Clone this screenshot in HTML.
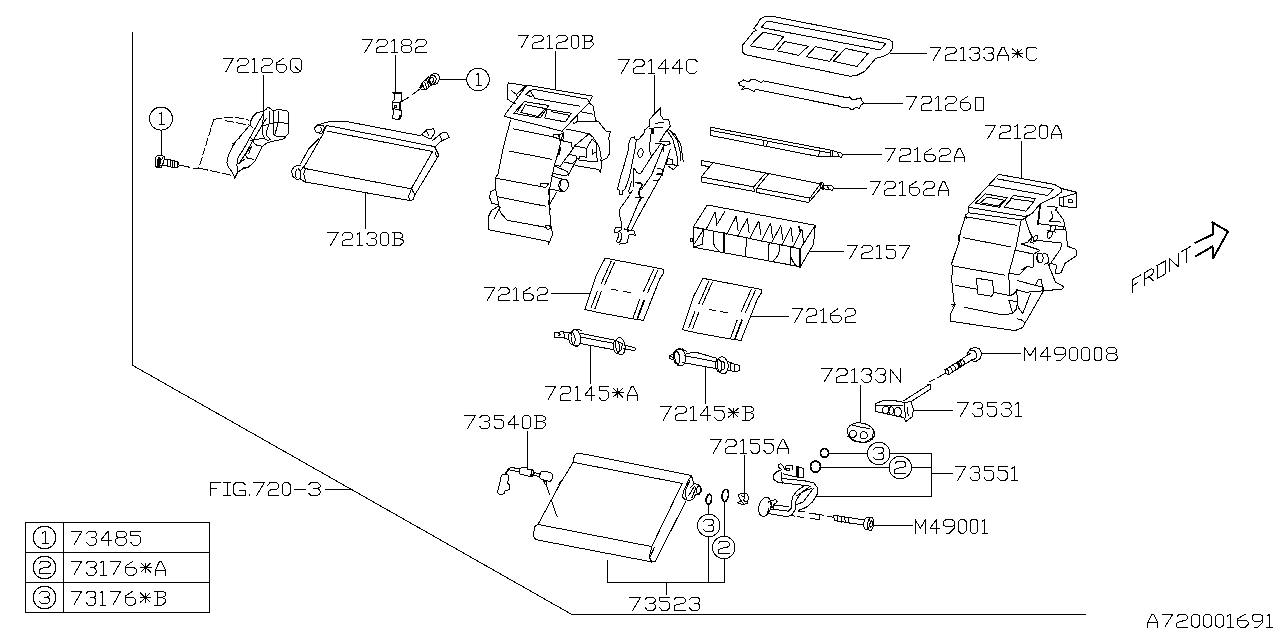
<!DOCTYPE html><html><head><meta charset="utf-8"><title>Parts diagram</title><style>html,body{margin:0;padding:0;background:#fff;font-family:"Liberation Sans",sans-serif}svg{display:block}</style></head><body><svg width="1280" height="640" viewBox="0 0 1280 640" shape-rendering="crispEdges"><g fill="none" stroke="#000" stroke-width="1" stroke-linejoin="round" stroke-linecap="square"><path d="M132,32 L132,365 L571,614 L1085,614"/><path d="M25.5,522.5 L209.5,522.5"/><path d="M25.5,552.5 L209.5,552.5"/><path d="M25.5,582.5 L209.5,582.5"/><path d="M25.5,612.5 L209.5,612.5"/><path d="M25.5,522.5 L25.5,612.5"/><path d="M63.5,522.5 L63.5,612.5"/><path d="M209.5,522.5 L209.5,612.5"/><path d="M55.8,537.5 L55.6,539.5 L55.1,541.3 L54.2,543.1 L53.1,544.7 L51.7,546.1 L50.1,547.2 L48.3,548.1 L46.5,548.6 L44.5,548.8 L42.5,548.6 L40.7,548.1 L38.9,547.2 L37.3,546.1 L35.9,544.7 L34.8,543.1 L33.9,541.3 L33.4,539.5 L33.2,537.5 L33.4,535.5 L33.9,533.7 L34.8,531.9 L35.9,530.3 L37.3,528.9 L38.9,527.8 L40.7,526.9 L42.5,526.4 L44.5,526.2 L46.5,526.4 L48.3,526.9 L50.1,527.8 L51.7,528.9 L53.1,530.3 L54.2,531.9 L55.1,533.7 L55.6,535.5Z"/><path d="M42.5,533 L45.3,531.3 L45.3,543.7"/><path d="M42.5,543.7 L48.3,543.7"/><path d="M55.8,567.5 L55.6,569.5 L55.1,571.3 L54.2,573.1 L53.1,574.7 L51.7,576.1 L50.1,577.2 L48.3,578.1 L46.5,578.6 L44.5,578.8 L42.5,578.6 L40.7,578.1 L38.9,577.2 L37.3,576.1 L35.9,574.7 L34.8,573.1 L33.9,571.3 L33.4,569.5 L33.2,567.5 L33.4,565.5 L33.9,563.7 L34.8,561.9 L35.9,560.3 L37.3,558.9 L38.9,557.8 L40.7,556.9 L42.5,556.4 L44.5,556.2 L46.5,556.4 L48.3,556.9 L50.1,557.8 L51.7,558.9 L53.1,560.3 L54.2,561.9 L55.1,563.7 L55.6,565.5Z"/><path d="M39,564 L41.1,561.3 L47.9,561.3 L50,563.2 L50,565.7 L47.9,567.5 L41.8,568.2 L39,569.9 L39,573.7 L50,573.7"/><path d="M55.8,597.5 L55.6,599.5 L55.1,601.3 L54.2,603.1 L53.1,604.7 L51.7,606.1 L50.1,607.2 L48.3,608.1 L46.5,608.6 L44.5,608.8 L42.5,608.6 L40.7,608.1 L38.9,607.2 L37.3,606.1 L35.9,604.7 L34.8,603.1 L33.9,601.3 L33.4,599.5 L33.2,597.5 L33.4,595.5 L33.9,593.7 L34.8,591.9 L35.9,590.3 L37.3,588.9 L38.9,587.8 L40.7,586.9 L42.5,586.4 L44.5,586.2 L46.5,586.4 L48.3,586.9 L50.1,587.8 L51.7,588.9 L53.1,590.3 L54.2,591.9 L55.1,593.7 L55.6,595.5Z"/><path d="M39.5,593.6 L41.6,591.3 L47.4,591.3 L49.5,593.3 L49.5,595.4 L47.4,597.1 L44,597.1"/><path d="M47.4,597.1 L49.5,598.8 L49.5,601.7 L47.4,603.7 L41.6,603.7 L39.5,601.4"/><path d="M71,531 L82.1,531 L73.9,545"/><path d="M86.5,533.6 L88.6,531 L94.4,531 L96.5,533.3 L96.5,535.6 L94.4,537.5 L91,537.5"/><path d="M94.4,537.5 L96.5,539.5 L96.5,542.7 L94.4,545 L88.6,545 L86.5,542.4"/><path d="M108.1,545 L108.1,531 L100.9,540 L111.2,540"/><path d="M118.1,531 L124.1,531 L126.2,533 L126.2,535.6 L124.1,537.5 L118.1,537.5 L116,535.6 L116,533 L118.1,531"/><path d="M118.1,537.5 L115.6,539.5 L115.6,542.7 L118.1,545 L124.1,545 L126.5,542.7 L126.5,539.5 L124.1,537.5"/><path d="M140.6,531 L130.9,531 L130.9,535.3 L138.3,535.3 L140.6,537.5 L140.6,542.7 L138.3,545 L133,545 L130.9,542.4"/><path d="M71,561 L81.8,561 L73.9,575"/><path d="M86.2,563.6 L88.2,561 L93.9,561 L96,563.3 L96,565.6 L93.9,567.5 L90.6,567.5"/><path d="M93.9,567.5 L96,569.5 L96,572.7 L93.9,575 L88.2,575 L86.2,572.4"/><path d="M100.3,562.9 L103.1,561 L103.1,575"/><path d="M100.3,575 L106,575"/><path d="M110.3,561 L121.1,561 L113.2,575"/><path d="M133.2,561 L125.8,566 L125.8,572.5 L128,575 L133.7,575 L136.3,572.5 L136.3,569.5 L133.7,567.4 L126.1,567.4"/><path d="M140.6,567.6 L151,567.6"/><path d="M145.8,563.1 L145.8,572.1"/><path d="M140.9,563.1 L150.6,572.1"/><path d="M150.6,563.1 L140.9,572.1"/><path d="M155.3,575 L155.3,570.3 L159.7,561 L161.2,561 L165.6,570.3 L165.6,575"/><path d="M155.3,570.3 L165.6,570.3"/><path d="M71,591 L81.8,591 L73.9,605"/><path d="M86.1,593.6 L88.1,591 L93.8,591 L95.8,593.3 L95.8,595.6 L93.8,597.5 L90.5,597.5"/><path d="M93.8,597.5 L95.8,599.5 L95.8,602.7 L93.8,605 L88.1,605 L86.1,602.4"/><path d="M100.1,592.9 L102.9,591 L102.9,605"/><path d="M100.1,605 L105.8,605"/><path d="M110.1,591 L120.9,591 L113,605"/><path d="M132.9,591 L125.5,596 L125.5,602.5 L127.7,605 L133.4,605 L135.9,602.5 L135.9,599.5 L133.4,597.4 L125.8,597.4"/><path d="M140.3,597.6 L150.5,597.6"/><path d="M145.4,593.1 L145.4,602.1"/><path d="M140.6,593.1 L150.2,602.1"/><path d="M150.2,593.1 L140.6,602.1"/><path d="M154.8,591 L162.3,591 L165.3,592.9 L165.3,595.6 L162.3,597.5 L157.1,597.5"/><path d="M162.3,597.5 L165.6,599.2 L165.6,601.9 L162.3,605 L154.8,605"/><path d="M157.1,591 L157.1,605"/><path d="M223,58 L233.4,58 L225.8,72"/><path d="M237.6,61 L239.6,58 L246,58 L248,60.2 L248,63 L246,65 L240.2,65.8 L237.6,67.7 L237.6,72 L248,72"/><path d="M252.1,59.9 L254.8,58 L254.8,72"/><path d="M252.1,72 L257.6,72"/><path d="M261.8,61 L263.7,58 L270.2,58 L272.2,60.2 L272.2,63 L270.2,65 L264.4,65.8 L261.8,67.7 L261.8,72 L272.2,72"/><path d="M283.8,58 L276.6,63 L276.6,69.5 L278.8,72 L284.3,72 L286.7,69.5 L286.7,66.5 L284.3,64.4 L276.9,64.4"/><path d="M292.9,58 L299,58 L301,60 L301,70 L299,72 L292.9,72 L290.9,70 L290.9,60 L292.9,58"/><path d="M295.4,67 L301,72"/><path d="M263.5,75 L263.5,113"/><path d="M362,39.5 L372.5,39.5 L364.8,52.5"/><path d="M376.7,42.3 L378.7,39.5 L385.2,39.5 L387.2,41.5 L387.2,44.1 L385.2,46 L379.4,46.7 L376.7,48.5 L376.7,52.5 L387.2,52.5"/><path d="M391.4,41.3 L394.2,39.5 L394.2,52.5"/><path d="M391.4,52.5 L397,52.5"/><path d="M403.5,39.5 L409.2,39.5 L411.2,41.4 L411.2,43.8 L409.2,45.5 L403.5,45.5 L401.5,43.8 L401.5,41.4 L403.5,39.5"/><path d="M403.5,45.5 L401.2,47.4 L401.2,50.4 L403.5,52.5 L409.2,52.5 L411.5,50.4 L411.5,47.4 L409.2,45.5"/><path d="M415.7,42.3 L417.7,39.5 L424.2,39.5 L426.2,41.5 L426.2,44.1 L424.2,46 L418.4,46.7 L415.7,48.5 L415.7,52.5 L426.2,52.5"/><path d="M395.5,55 L395.5,92.5"/><path d="M518.2,35 L528.5,35 L521,48.2"/><path d="M532.6,37.8 L534.6,35 L541,35 L543,37.1 L543,39.7 L541,41.6 L535.3,42.4 L532.6,44.1 L532.6,48.2 L543,48.2"/><path d="M547.1,36.8 L549.8,35 L549.8,48.2"/><path d="M547.1,48.2 L552.5,48.2"/><path d="M556.6,37.8 L558.6,35 L565,35 L567,37.1 L567,39.7 L565,41.6 L559.3,42.4 L556.6,44.1 L556.6,48.2 L567,48.2"/><path d="M573,35 L576.6,35 L578.6,36.9 L578.6,46.3 L576.6,48.2 L573,48.2 L571.1,46.3 L571.1,36.9 L573,35"/><path d="M582.7,35 L589.9,35 L592.7,36.8 L592.7,39.3 L589.9,41.1 L584.8,41.1"/><path d="M589.9,41.1 L593,42.7 L593,45.3 L589.9,48.2 L582.7,48.2"/><path d="M584.8,35 L584.8,48.2"/><path d="M555.5,51 L555.5,88.7"/><path d="M618.7,59.5 L629.3,59.5 L621.5,73"/><path d="M633.6,62.4 L635.6,59.5 L642.2,59.5 L644.2,61.6 L644.2,64.3 L642.2,66.2 L636.3,67 L633.6,68.9 L633.6,73 L644.2,73"/><path d="M648.5,61.3 L651.2,59.5 L651.2,73"/><path d="M648.5,73 L654.1,73"/><path d="M665.2,73 L665.2,59.5 L658.3,68.2 L668.2,68.2"/><path d="M679.4,73 L679.4,59.5 L672.5,68.2 L682.4,68.2"/><path d="M697,61.6 L695,59.5 L688.7,59.5 L686.7,61.6 L686.7,70.9 L688.7,73 L695,73 L697,70.9"/><path d="M654.5,75.5 L654.5,113.7"/><path d="M930.5,47 L941.1,47 L933.3,60"/><path d="M945.4,49.8 L947.4,47 L954,47 L956,49 L956,51.6 L954,53.5 L948.1,54.2 L945.4,56 L945.4,60 L956,60"/><path d="M960.3,48.8 L963,47 L963,60"/><path d="M960.3,60 L965.9,60"/><path d="M970.1,49.4 L972.1,47 L977.7,47 L979.7,49.1 L979.7,51.3 L977.7,53 L974.5,53"/><path d="M977.7,53 L979.7,54.9 L979.7,57.9 L977.7,60 L972.1,60 L970.1,57.6"/><path d="M984,49.4 L986,47 L991.6,47 L993.6,49.1 L993.6,51.3 L991.6,53 L988.4,53"/><path d="M991.6,53 L993.6,54.9 L993.6,57.9 L991.6,60 L986,60 L984,57.6"/><path d="M997.9,60 L997.9,55.6 L1002.2,47 L1003.7,47 L1008,55.6 L1008,60"/><path d="M997.9,55.6 L1008,55.6"/><path d="M1012.3,53.1 L1022.4,53.1"/><path d="M1017.3,49 L1017.3,57.3"/><path d="M1012.6,49 L1022.1,57.3"/><path d="M1022.1,49 L1012.6,57.3"/><path d="M1037,49 L1035,47 L1028.7,47 L1026.7,49 L1026.7,58 L1028.7,60 L1035,60 L1037,58"/><path d="M890,53.5 L926.2,53.5"/><path d="M906.2,96.2 L916.8,96.2 L909,110"/><path d="M921,99.2 L923,96.2 L929.6,96.2 L931.6,98.4 L931.6,101.1 L929.6,103.1 L923.7,103.9 L921,105.8 L921,110 L931.6,110"/><path d="M935.8,98.1 L938.5,96.2 L938.5,110"/><path d="M935.8,110 L941.3,110"/><path d="M945.6,99.2 L947.6,96.2 L954.1,96.2 L956.1,98.4 L956.1,101.1 L954.1,103.1 L948.3,103.9 L945.6,105.8 L945.6,110 L956.1,110"/><path d="M967.9,96.2 L960.7,101.1 L960.7,107.5 L962.9,110 L968.4,110 L970.9,107.5 L970.9,104.6 L968.4,102.5 L961,102.5"/><path d="M975.1,97.2 L983.7,97.2 L983.7,110 L975.1,110 L975.1,97.2"/><path d="M862.5,103.5 L902,103.5"/><path d="M885,148 L895.6,148 L887.8,161.7"/><path d="M899.9,150.9 L901.9,148 L908.5,148 L910.5,150.2 L910.5,152.9 L908.5,154.8 L902.6,155.6 L899.9,157.5 L899.9,161.7 L910.5,161.7"/><path d="M914.8,149.9 L917.5,148 L917.5,161.7"/><path d="M914.8,161.7 L920.3,161.7"/><path d="M932.2,148 L924.9,152.9 L924.9,159.3 L927.1,161.7 L932.7,161.7 L935.2,159.3 L935.2,156.3 L932.7,154.3 L925.2,154.3"/><path d="M939.5,150.9 L941.5,148 L948.1,148 L950.1,150.2 L950.1,152.9 L948.1,154.8 L942.2,155.6 L939.5,157.5 L939.5,161.7 L950.1,161.7"/><path d="M954.4,161.7 L954.4,157.1 L958.7,148 L960.1,148 L964.5,157.1 L964.5,161.7"/><path d="M954.4,157.1 L964.5,157.1"/><path d="M842.5,154.5 L881.2,154.5"/><path d="M870,181.2 L880.5,181.2 L872.8,195"/><path d="M884.7,184.2 L886.7,181.2 L893.3,181.2 L895.3,183.4 L895.3,186.1 L893.3,188.1 L887.4,188.9 L884.7,190.8 L884.7,195 L895.3,195"/><path d="M899.5,183.1 L902.2,181.2 L902.2,195"/><path d="M899.5,195 L905,195"/><path d="M916.7,181.2 L909.5,186.1 L909.5,192.5 L911.7,195 L917.2,195 L919.7,192.5 L919.7,189.6 L917.2,187.5 L909.8,187.5"/><path d="M923.9,184.2 L925.9,181.2 L932.5,181.2 L934.5,183.4 L934.5,186.1 L932.5,188.1 L926.6,188.9 L923.9,190.8 L923.9,195 L934.5,195"/><path d="M938.7,195 L938.7,190.4 L943,181.2 L944.4,181.2 L948.7,190.4 L948.7,195"/><path d="M938.7,190.4 L948.7,190.4"/><path d="M833,188.5 L866.2,188.5"/><path d="M847,245 L857.5,245 L849.8,258.7"/><path d="M861.7,247.9 L863.7,245 L870.2,245 L872.2,247.2 L872.2,249.9 L870.2,251.8 L864.4,252.6 L861.7,254.5 L861.7,258.7 L872.2,258.7"/><path d="M876.4,246.9 L879.1,245 L879.1,258.7"/><path d="M876.4,258.7 L881.9,258.7"/><path d="M895.3,245 L886.1,245 L886.1,249.2 L893.1,249.2 L895.3,251.4 L895.3,256.4 L893.1,258.7 L888.1,258.7 L886.1,256.2"/><path d="M899.5,245 L910,245 L902.3,258.7"/><path d="M810,251.5 L843.7,251.5"/><path d="M985,125 L995.7,125 L987.8,138.7"/><path d="M999.9,127.9 L1001.9,125 L1008.5,125 L1010.6,127.2 L1010.6,129.9 L1008.5,131.8 L1002.7,132.6 L999.9,134.5 L999.9,138.7 L1010.6,138.7"/><path d="M1014.8,126.9 L1017.6,125 L1017.6,138.7"/><path d="M1014.8,138.7 L1020.4,138.7"/><path d="M1024.7,127.9 L1026.7,125 L1033.3,125 L1035.3,127.2 L1035.3,129.9 L1033.3,131.8 L1027.4,132.6 L1024.7,134.5 L1024.7,138.7 L1035.3,138.7"/><path d="M1041.6,125 L1045.3,125 L1047.3,127 L1047.3,136.7 L1045.3,138.7 L1041.6,138.7 L1039.6,136.7 L1039.6,127 L1041.6,125"/><path d="M1051.6,138.7 L1051.6,134.1 L1055.9,125 L1057.3,125 L1061.7,134.1 L1061.7,138.7"/><path d="M1051.6,134.1 L1061.7,134.1"/><path d="M1021.5,141.2 L1021.5,178.7"/><path d="M484.5,287.5 L494.8,287.5 L487.2,300.7"/><path d="M498.9,290.3 L500.9,287.5 L507.2,287.5 L509.2,289.6 L509.2,292.2 L507.2,294.1 L501.5,294.9 L498.9,296.6 L498.9,300.7 L509.2,300.7"/><path d="M513.3,289.3 L516,287.5 L516,300.7"/><path d="M513.3,300.7 L518.7,300.7"/><path d="M530.2,287.5 L523.1,292.2 L523.1,298.3 L525.3,300.7 L530.6,300.7 L533.1,298.3 L533.1,295.5 L530.6,293.5 L523.4,293.5"/><path d="M537.2,290.3 L539.2,287.5 L545.5,287.5 L547.5,289.6 L547.5,292.2 L545.5,294.1 L539.9,294.9 L537.2,296.6 L537.2,300.7 L547.5,300.7"/><path d="M551.2,293.5 L590,293.5"/><path d="M792,308.7 L802.4,308.7 L794.8,322.5"/><path d="M806.5,311.7 L808.5,308.7 L814.9,308.7 L816.9,310.9 L816.9,313.6 L814.9,315.6 L809.2,316.4 L806.5,318.3 L806.5,322.5 L816.9,322.5"/><path d="M821,310.6 L823.7,308.7 L823.7,322.5"/><path d="M821,322.5 L826.5,322.5"/><path d="M838,308.7 L830.9,313.6 L830.9,320 L833.1,322.5 L838.5,322.5 L841,320 L841,317.1 L838.5,315 L831.2,315"/><path d="M845.1,311.7 L847.1,308.7 L853.5,308.7 L855.5,310.9 L855.5,313.6 L853.5,315.6 L847.8,316.4 L845.1,318.3 L845.1,322.5 L855.5,322.5"/><path d="M750,316.5 L788.7,316.5"/><path d="M545,386.2 L555.7,386.2 L547.9,400"/><path d="M560,389.2 L562,386.2 L568.7,386.2 L570.7,388.4 L570.7,391.1 L568.7,393.1 L562.7,393.9 L560,395.8 L560,400 L570.7,400"/><path d="M575,388.1 L577.7,386.2 L577.7,400"/><path d="M575,400 L580.6,400"/><path d="M591.8,400 L591.8,386.2 L584.9,395.1 L594.9,395.1"/><path d="M608.5,386.2 L599.2,386.2 L599.2,390.4 L606.3,390.4 L608.5,392.6 L608.5,397.7 L606.3,400 L601.2,400 L599.2,397.4"/><path d="M612.8,392.7 L623,392.7"/><path d="M617.9,388.3 L617.9,397.1"/><path d="M613.1,388.3 L622.7,397.1"/><path d="M622.7,388.3 L613.1,397.1"/><path d="M627.3,400 L627.3,395.4 L631.7,386.2 L633.1,386.2 L637.5,395.4 L637.5,400"/><path d="M627.3,395.4 L637.5,395.4"/><path d="M590.5,346.2 L590.5,383.7"/><path d="M660.5,406.2 L671.2,406.2 L663.4,420"/><path d="M675.5,409.2 L677.5,406.2 L684.2,406.2 L686.2,408.4 L686.2,411.1 L684.2,413.1 L678.2,413.9 L675.5,415.8 L675.5,420 L686.2,420"/><path d="M690.5,408.1 L693.2,406.2 L693.2,420"/><path d="M690.5,420 L696.1,420"/><path d="M707.3,420 L707.3,406.2 L700.4,415.1 L710.4,415.1"/><path d="M724,406.2 L714.6,406.2 L714.6,410.4 L721.8,410.4 L724,412.6 L724,417.7 L721.8,420 L716.7,420 L714.6,417.4"/><path d="M728.3,412.7 L738.5,412.7"/><path d="M733.4,408.3 L733.4,417.1"/><path d="M728.6,408.3 L738.2,417.1"/><path d="M738.2,408.3 L728.6,417.1"/><path d="M742.8,406.2 L750.2,406.2 L753.2,408.1 L753.2,410.7 L750.2,412.6 L745,412.6"/><path d="M750.2,412.6 L753.5,414.3 L753.5,416.9 L750.2,420 L742.8,420"/><path d="M745,406.2 L745,420"/><path d="M705.5,366.2 L705.5,403.7"/><path d="M821.2,368.7 L832.1,368.7 L824.1,382"/><path d="M836.4,371.6 L838.5,368.7 L845.2,368.7 L847.3,370.8 L847.3,373.4 L845.2,375.4 L839.2,376.1 L836.4,377.9 L836.4,382 L847.3,382"/><path d="M851.6,370.5 L854.4,368.7 L854.4,382"/><path d="M851.6,382 L857.3,382"/><path d="M861.6,371.2 L863.7,368.7 L869.4,368.7 L871.4,370.9 L871.4,373.1 L869.4,374.9 L866.1,374.9"/><path d="M869.4,374.9 L871.4,376.8 L871.4,379.8 L869.4,382 L863.7,382 L861.6,379.5"/><path d="M875.8,371.2 L877.9,368.7 L883.5,368.7 L885.6,370.9 L885.6,373.1 L883.5,374.9 L880.2,374.9"/><path d="M883.5,374.9 L885.6,376.8 L885.6,379.8 L883.5,382 L877.9,382 L875.8,379.5"/><path d="M890,382 L890,368.7 L900.5,382 L900.5,368.7"/><path d="M860.5,385 L860.5,422"/><path d="M1024.5,360.7 L1024.5,347.5 L1030.1,356 L1035.6,347.5 L1035.6,360.7"/><path d="M1047.1,360.7 L1047.1,347.5 L1040,356 L1050.2,356"/><path d="M1065.1,353.2 L1062.9,354.8 L1056.8,354.8 L1054.5,353.2 L1054.5,349.3 L1056.8,347.5 L1062.9,347.5 L1065.1,349.3 L1065.1,356 L1060.6,360.7 L1056.8,360.7"/><path d="M1071.6,347.5 L1075.3,347.5 L1077.4,349.4 L1077.4,358.8 L1075.3,360.7 L1071.6,360.7 L1069.5,358.8 L1069.5,349.4 L1071.6,347.5"/><path d="M1083.8,347.5 L1087.6,347.5 L1089.7,349.4 L1089.7,358.8 L1087.6,360.7 L1083.8,360.7 L1081.8,358.8 L1081.8,349.4 L1083.8,347.5"/><path d="M1096.1,347.5 L1099.9,347.5 L1101.9,349.4 L1101.9,358.8 L1099.9,360.7 L1096.1,360.7 L1094,358.8 L1094,349.4 L1096.1,347.5"/><path d="M1108.7,347.5 L1114.6,347.5 L1116.7,349.4 L1116.7,351.8 L1114.6,353.6 L1108.7,353.6 L1106.6,351.8 L1106.6,349.4 L1108.7,347.5"/><path d="M1108.7,353.6 L1106.3,355.5 L1106.3,358.5 L1108.7,360.7 L1114.6,360.7 L1117,358.5 L1117,355.5 L1114.6,353.6"/><path d="M981.2,353.5 L1020,353.5"/><path d="M957.5,402.5 L968.5,402.5 L960.4,416.2"/><path d="M972.9,405 L974.9,402.5 L980.7,402.5 L982.8,404.8 L982.8,407 L980.7,408.9 L977.3,408.9"/><path d="M980.7,408.9 L982.8,410.8 L982.8,413.9 L980.7,416.2 L974.9,416.2 L972.9,413.7"/><path d="M996.8,402.5 L987.2,402.5 L987.2,406.7 L994.5,406.7 L996.8,408.9 L996.8,413.9 L994.5,416.2 L989.2,416.2 L987.2,413.7"/><path d="M1001.2,405 L1003.2,402.5 L1009,402.5 L1011.1,404.8 L1011.1,407 L1009,408.9 L1005.6,408.9"/><path d="M1009,408.9 L1011.1,410.8 L1011.1,413.9 L1009,416.2 L1003.2,416.2 L1001.2,413.7"/><path d="M1015.5,404.4 L1018.3,402.5 L1018.3,416.2"/><path d="M1015.5,416.2 L1021.2,416.2"/><path d="M913.7,410.5 L952.5,410.5"/><path d="M955,466.5 L965.8,466.5 L957.9,480.3"/><path d="M970.1,469.1 L972.2,466.5 L977.9,466.5 L979.9,468.8 L979.9,471 L977.9,472.9 L974.6,472.9"/><path d="M977.9,472.9 L979.9,474.9 L979.9,478 L977.9,480.3 L972.2,480.3 L970.1,477.7"/><path d="M993.7,466.5 L984.2,466.5 L984.2,470.7 L991.4,470.7 L993.7,472.9 L993.7,478 L991.4,480.3 L986.3,480.3 L984.2,477.7"/><path d="M1007.5,466.5 L998,466.5 L998,470.7 L1005.2,470.7 L1007.5,472.9 L1007.5,478 L1005.2,480.3 L1000.1,480.3 L998,477.7"/><path d="M1011.8,468.4 L1014.6,466.5 L1014.6,480.3"/><path d="M1011.8,480.3 L1017.5,480.3"/><path d="M931.5,473.5 L952,473.5"/><path d="M464.5,415.5 L475.4,415.5 L467.4,428.7"/><path d="M479.7,418 L481.8,415.5 L487.5,415.5 L489.6,417.7 L489.6,419.8 L487.5,421.6 L484.2,421.6"/><path d="M487.5,421.6 L489.6,423.5 L489.6,426.5 L487.5,428.7 L481.8,428.7 L479.7,426.2"/><path d="M503.5,415.5 L494,415.5 L494,419.6 L501.2,419.6 L503.5,421.6 L503.5,426.5 L501.2,428.7 L496,428.7 L494,426.2"/><path d="M514.9,428.7 L514.9,415.5 L507.9,424 L518,424"/><path d="M524.4,415.5 L528.2,415.5 L530.3,417.4 L530.3,426.8 L528.2,428.7 L524.4,428.7 L522.4,426.8 L522.4,417.4 L524.4,415.5"/><path d="M534.6,415.5 L542.2,415.5 L545.2,417.3 L545.2,419.8 L542.2,421.6 L536.9,421.6"/><path d="M542.2,421.6 L545.5,423.2 L545.5,425.8 L542.2,428.7 L534.6,428.7"/><path d="M536.9,415.5 L536.9,428.7"/><path d="M527.5,431.2 L527.5,468.7"/><path d="M710.5,439.5 L721.2,439.5 L713.4,453"/><path d="M725.5,442.4 L727.6,439.5 L734.2,439.5 L736.2,441.6 L736.2,444.3 L734.2,446.2 L728.3,447 L725.5,448.9 L725.5,453 L736.2,453"/><path d="M740.5,441.3 L743.3,439.5 L743.3,453"/><path d="M740.5,453 L746.1,453"/><path d="M759.8,439.5 L750.4,439.5 L750.4,443.6 L757.6,443.6 L759.8,445.8 L759.8,450.8 L757.6,453 L752.5,453 L750.4,450.5"/><path d="M773.5,439.5 L764.1,439.5 L764.1,443.6 L771.3,443.6 L773.5,445.8 L773.5,450.8 L771.3,453 L766.1,453 L764.1,450.5"/><path d="M777.8,453 L777.8,448.5 L782.2,439.5 L783.6,439.5 L788,448.5 L788,453"/><path d="M777.8,448.5 L788,448.5"/><path d="M744.5,455.5 L744.5,492.5"/><path d="M915,533 L915,519.5 L920.4,528.2 L925.7,519.5 L925.7,533"/><path d="M936.7,533 L936.7,519.5 L929.9,528.2 L939.7,528.2"/><path d="M954.2,525.3 L952,526.9 L946.1,526.9 L943.9,525.3 L943.9,521.3 L946.1,519.5 L952,519.5 L954.2,521.3 L954.2,528.2 L949.7,533 L946.1,533"/><path d="M960.4,519.5 L964,519.5 L966,521.4 L966,531.1 L964,533 L960.4,533 L958.4,531.1 L958.4,521.4 L960.4,519.5"/><path d="M972.2,519.5 L975.8,519.5 L977.8,521.4 L977.8,531.1 L975.8,533 L972.2,533 L970.2,531.1 L970.2,521.4 L972.2,519.5"/><path d="M982,521.3 L984.7,519.5 L984.7,533"/><path d="M982,533 L987.5,533"/><path d="M873.7,525.5 L912.5,525.5"/><path d="M629.7,597 L640.8,597 L632.7,610.3"/><path d="M645.3,599.5 L647.4,597 L653.2,597 L655.3,599.2 L655.3,601.4 L653.2,603.2 L649.8,603.2"/><path d="M653.2,603.2 L655.3,605.1 L655.3,608.1 L653.2,610.3 L647.4,610.3 L645.3,607.8"/><path d="M669.5,597 L659.8,597 L659.8,601.1 L667.2,601.1 L669.5,603.2 L669.5,608.1 L667.2,610.3 L661.9,610.3 L659.8,607.8"/><path d="M674,599.9 L676.1,597 L683,597 L685.1,599.1 L685.1,601.8 L683,603.6 L676.8,604.4 L674,606.2 L674,610.3 L685.1,610.3"/><path d="M689.5,599.5 L691.7,597 L697.5,597 L699.6,599.2 L699.6,601.4 L697.5,603.2 L694.1,603.2"/><path d="M697.5,603.2 L699.6,605.1 L699.6,608.1 L697.5,610.3 L691.7,610.3 L689.5,607.8"/><path d="M666.5,582.5 L666.5,594.7"/><path d="M327.5,232.5 L338.1,232.5 L330.3,245.7"/><path d="M342.3,235.3 L344.3,232.5 L350.8,232.5 L352.8,234.6 L352.8,237.2 L350.8,239.1 L345,239.9 L342.3,241.6 L342.3,245.7 L352.8,245.7"/><path d="M357.1,234.3 L359.8,232.5 L359.8,245.7"/><path d="M357.1,245.7 L362.6,245.7"/><path d="M366.8,235 L368.8,232.5 L374.3,232.5 L376.4,234.7 L376.4,236.8 L374.3,238.6 L371.1,238.6"/><path d="M374.3,238.6 L376.4,240.5 L376.4,243.5 L374.3,245.7 L368.8,245.7 L366.8,243.2"/><path d="M382.6,232.5 L386.2,232.5 L388.2,234.4 L388.2,243.8 L386.2,245.7 L382.6,245.7 L380.6,243.8 L380.6,234.4 L382.6,232.5"/><path d="M392.4,232.5 L399.8,232.5 L402.7,234.3 L402.7,236.8 L399.8,238.6 L394.7,238.6"/><path d="M399.8,238.6 L403,240.2 L403,242.8 L399.8,245.7 L392.4,245.7"/><path d="M394.7,232.5 L394.7,245.7"/><path d="M365.5,192 L365.5,228.7"/><path d="M1147.7,627 L1147.7,622.7 L1152,614.3 L1153.5,614.3 L1157.8,622.7 L1157.8,627"/><path d="M1147.7,622.7 L1157.8,622.7"/><path d="M1162.1,614.3 L1172.7,614.3 L1164.9,627"/><path d="M1176.9,617 L1179,614.3 L1185.5,614.3 L1187.5,616.3 L1187.5,618.8 L1185.5,620.6 L1179.7,621.4 L1176.9,623.1 L1176.9,627 L1187.5,627"/><path d="M1193.8,614.3 L1197.5,614.3 L1199.5,616.1 L1199.5,625.2 L1197.5,627 L1193.8,627 L1191.8,625.2 L1191.8,616.1 L1193.8,614.3"/><path d="M1205.8,614.3 L1209.4,614.3 L1211.4,616.1 L1211.4,625.2 L1209.4,627 L1205.8,627 L1203.7,625.2 L1203.7,616.1 L1205.8,614.3"/><path d="M1217.7,614.3 L1221.3,614.3 L1223.3,616.1 L1223.3,625.2 L1221.3,627 L1217.7,627 L1215.7,625.2 L1215.7,616.1 L1217.7,614.3"/><path d="M1227.6,616 L1230.3,614.3 L1230.3,627"/><path d="M1227.6,627 L1233.2,627"/><path d="M1245,614.3 L1237.7,618.8 L1237.7,624.7 L1239.9,627 L1245.5,627 L1248,624.7 L1248,622 L1245.5,620.1 L1238,620.1"/><path d="M1262.6,619.7 L1260.4,621.3 L1254.5,621.3 L1252.3,619.7 L1252.3,616 L1254.5,614.3 L1260.4,614.3 L1262.6,616 L1262.6,622.5 L1258.1,627 L1254.5,627"/><path d="M1266.8,616 L1269.6,614.3 L1269.6,627"/><path d="M1266.8,627 L1272.4,627"/><path d="M220,482.5 L210,482.5 L210,495.6"/><path d="M210,488.7 L216,488.7"/><path d="M223.7,482.5 L230.6,482.5"/><path d="M227.1,482.5 L227.1,495.6"/><path d="M223.7,495.6 L230.6,495.6"/><path d="M245,484.6 L242.8,482.5 L236,482.5 L233.8,484.6 L233.8,493.5 L236,495.6 L245,495.6 L245,490 L239.8,490"/><path d="M249.6,494.3 L249.6,495.6"/><path d="M253.8,482.5 L264.4,482.5 L256.6,495.6"/><path d="M268,485.3 L270.1,482.5 L276.7,482.5 L278.8,484.6 L278.8,487.2 L276.7,489.1 L270.8,489.8 L268,491.6 L268,495.6 L278.8,495.6"/><path d="M284.5,482.5 L288,482.5 L290,484.4 L290,493.7 L288,495.6 L284.5,495.6 L282.5,493.7 L282.5,484.4 L284.5,482.5"/><path d="M294.4,489.1 L305,489.1"/><path d="M308.8,484.9 L311.2,482.5 L317.6,482.5 L320,484.7 L320,486.8 L317.6,488.6 L313.9,488.6"/><path d="M317.6,488.6 L320,490.5 L320,493.4 L317.6,495.6 L311.2,495.6 L308.8,493.2"/><path d="M325,489.5 L352,489.5"/><path d="M172.5,118.6 L172.3,120.6 L171.8,122.5 L171,124.3 L169.8,126 L168.4,127.4 L166.8,128.6 L164.9,129.4 L163,129.9 L161,130.1 L159,129.9 L157.1,129.4 L155.2,128.6 L153.6,127.4 L152.2,126 L151,124.3 L150.2,122.5 L149.7,120.6 L149.5,118.6 L149.7,116.6 L150.2,114.7 L151,112.8 L152.2,111.2 L153.6,109.8 L155.2,108.6 L157.1,107.8 L159,107.3 L161,107.1 L163,107.3 L164.9,107.8 L166.8,108.6 L168.4,109.8 L169.8,111.2 L171,112.8 L171.8,114.7 L172.3,116.6Z"/><path d="M159,114.1 L161.8,112.4 L161.8,124.8"/><path d="M159,124.8 L164.8,124.8"/><path d="M161.5,130.3 L161.5,155"/><path d="M489.2,79.5 L489.1,81.5 L488.6,83.3 L487.7,85.1 L486.6,86.7 L485.2,88.1 L483.6,89.2 L481.8,90.1 L480,90.6 L478,90.8 L476,90.6 L474.2,90.1 L472.4,89.2 L470.8,88.1 L469.4,86.7 L468.3,85.1 L467.4,83.3 L466.9,81.5 L466.8,79.5 L466.9,77.5 L467.4,75.7 L468.3,73.9 L469.4,72.3 L470.8,70.9 L472.4,69.8 L474.2,68.9 L476,68.4 L478,68.2 L480,68.4 L481.8,68.9 L483.6,69.8 L485.2,70.9 L486.6,72.3 L487.7,73.9 L488.6,75.7 L489.1,77.5Z"/><path d="M476,75 L478.8,73.3 L478.8,85.7"/><path d="M476,85.7 L481.8,85.7"/><path d="M440,79.5 L466.7,79.5"/><path d="M829,453.5 L867.5,453.5"/><path d="M890,453.5 L931.5,453.5"/><path d="M821,467.5 L889.2,467.5"/><path d="M911.7,467.5 L931.5,467.5"/><path d="M816.2,496.5 L931.5,496.5 L931.5,453.5"/><path d="M890,453.5 L889.8,455.5 L889.3,457.3 L888.4,459.1 L887.3,460.7 L885.9,462.1 L884.3,463.2 L882.5,464.1 L880.7,464.6 L878.7,464.8 L876.7,464.6 L874.9,464.1 L873.1,463.2 L871.5,462.1 L870.1,460.7 L869,459.1 L868.1,457.3 L867.6,455.5 L867.5,453.5 L867.6,451.5 L868.1,449.7 L869,447.9 L870.1,446.3 L871.5,444.9 L873.1,443.8 L874.9,442.9 L876.7,442.4 L878.7,442.2 L880.7,442.4 L882.5,442.9 L884.3,443.8 L885.9,444.9 L887.3,446.3 L888.4,447.9 L889.3,449.7 L889.8,451.5Z"/><path d="M873.7,449.6 L875.8,447.3 L881.6,447.3 L883.7,449.3 L883.7,451.4 L881.6,453.1 L878.2,453.1"/><path d="M881.6,453.1 L883.7,454.8 L883.7,457.7 L881.6,459.7 L875.8,459.7 L873.7,457.4"/><path d="M911.5,467.5 L911.4,469.5 L910.9,471.3 L910,473.1 L908.9,474.7 L907.5,476.1 L905.9,477.2 L904.1,478.1 L902.3,478.6 L900.3,478.8 L898.3,478.6 L896.5,478.1 L894.7,477.2 L893.1,476.1 L891.7,474.7 L890.6,473.1 L889.7,471.3 L889.2,469.5 L889,467.5 L889.2,465.5 L889.7,463.7 L890.6,461.9 L891.7,460.3 L893.1,458.9 L894.7,457.8 L896.5,456.9 L898.3,456.4 L900.3,456.2 L902.3,456.4 L904.1,456.9 L905.9,457.8 L907.5,458.9 L908.9,460.3 L910,461.9 L910.9,463.7 L911.4,465.5Z"/><path d="M894.8,464 L896.9,461.3 L903.7,461.3 L905.8,463.2 L905.8,465.7 L903.7,467.5 L897.6,468.2 L894.8,469.9 L894.8,473.7 L905.8,473.7"/><path d="M828.1,453 L828,454 L827.6,455 L827,455.8 L826.3,456.5 L825.4,456.9 L824.5,457 L823.6,456.9 L822.7,456.5 L822,455.8 L821.4,455 L821,454 L820.9,453 L821,452 L821.4,451 L822,450.2 L822.7,449.5 L823.6,449.1 L824.5,449 L825.4,449.1 L826.3,449.5 L827,450.2 L827.6,451 L828,452Z"/><path d="M828.9,453 L828.8,454.2 L828.3,455.4 L827.6,456.4 L826.7,457.2 L825.6,457.6 L824.5,457.8 L823.4,457.6 L822.3,457.2 L821.4,456.4 L820.7,455.4 L820.2,454.2 L820.1,453 L820.2,451.8 L820.7,450.6 L821.4,449.6 L822.3,448.8 L823.4,448.4 L824.5,448.2 L825.6,448.4 L826.7,448.8 L827.6,449.6 L828.3,450.6 L828.8,451.8Z"/><path d="M820.1,466.7 L819.9,468 L819.5,469.3 L818.8,470.4 L817.8,471.2 L816.7,471.7 L815.5,471.9 L814.3,471.7 L813.2,471.2 L812.2,470.4 L811.5,469.3 L811.1,468 L810.9,466.7 L811.1,465.4 L811.5,464.1 L812.2,463 L813.2,462.2 L814.3,461.7 L815.5,461.5 L816.7,461.7 L817.8,462.2 L818.8,463 L819.5,464.1 L819.9,465.4Z"/><path d="M820.9,466.7 L820.7,468.3 L820.2,469.7 L819.3,470.9 L818.2,471.9 L816.9,472.5 L815.5,472.7 L814.1,472.5 L812.8,471.9 L811.7,470.9 L810.8,469.7 L810.3,468.3 L810.1,466.7 L810.3,465.1 L810.8,463.7 L811.7,462.5 L812.8,461.5 L814.1,460.9 L815.5,460.7 L816.9,460.9 L818.2,461.5 L819.3,462.5 L820.2,463.7 L820.7,465.1Z"/><path d="M607.5,560 L607.5,582.5 L724.5,582.5 L724.5,559"/><path d="M708.5,582.5 L708.5,537"/><path d="M708.5,514 L708.5,503.5"/><path d="M724.5,536 L724.5,501"/><path d="M720,525.5 L719.8,527.5 L719.3,529.3 L718.4,531.1 L717.3,532.7 L715.9,534.1 L714.3,535.2 L712.5,536.1 L710.7,536.6 L708.7,536.8 L706.7,536.6 L704.9,536.1 L703.1,535.2 L701.5,534.1 L700.1,532.7 L699,531.1 L698.1,529.3 L697.6,527.5 L697.5,525.5 L697.6,523.5 L698.1,521.7 L699,519.9 L700.1,518.3 L701.5,516.9 L703.1,515.8 L704.9,514.9 L706.7,514.4 L708.7,514.2 L710.7,514.4 L712.5,514.9 L714.3,515.8 L715.9,516.9 L717.3,518.3 L718.4,519.9 L719.3,521.7 L719.8,523.5Z"/><path d="M703.7,521.6 L705.8,519.3 L711.6,519.3 L713.7,521.3 L713.7,523.4 L711.6,525.1 L708.2,525.1"/><path d="M711.6,525.1 L713.7,526.8 L713.7,529.7 L711.6,531.7 L705.8,531.7 L703.7,529.4"/><path d="M735,547.5 L734.8,549.5 L734.3,551.3 L733.4,553.1 L732.3,554.7 L730.9,556.1 L729.3,557.2 L727.5,558.1 L725.7,558.6 L723.7,558.8 L721.7,558.6 L719.9,558.1 L718.1,557.2 L716.5,556.1 L715.1,554.7 L714,553.1 L713.1,551.3 L712.6,549.5 L712.5,547.5 L712.6,545.5 L713.1,543.7 L714,541.9 L715.1,540.3 L716.5,538.9 L718.1,537.8 L719.9,536.9 L721.7,536.4 L723.7,536.2 L725.7,536.4 L727.5,536.9 L729.3,537.8 L730.9,538.9 L732.3,540.3 L733.4,541.9 L734.3,543.7 L734.8,545.5Z"/><path d="M718.2,544 L720.3,541.3 L727.1,541.3 L729.2,543.2 L729.2,545.7 L727.1,547.5 L721,548.2 L718.2,549.9 L718.2,553.7 L729.2,553.7"/><path d="M711.2,499.7 L710.9,501 L710.5,502.1 L710,503.1 L709.4,503.8 L708.8,504.2 L708.2,504.3 L707.7,504 L707.2,503.4 L706.8,502.6 L706.6,501.5 L706.5,500.3 L706.6,499.1 L706.9,497.8 L707.3,496.7 L707.8,495.7 L708.4,495 L709,494.6 L709.6,494.5 L710.1,494.8 L710.6,495.4 L711,496.2 L711.2,497.3 L711.3,498.5Z"/><path d="M711.9,499.8 L711.6,501.2 L711.1,502.5 L710.4,503.6 L709.7,504.4 L708.9,504.9 L708.1,504.9 L707.4,504.6 L706.7,504 L706.2,503 L705.9,501.8 L705.8,500.4 L705.9,499 L706.2,497.6 L706.7,496.3 L707.4,495.2 L708.1,494.4 L708.9,493.9 L709.7,493.9 L710.4,494.2 L711.1,494.8 L711.6,495.8 L711.9,497 L712,498.4Z"/><path d="M728,495.8 L727.7,497.2 L727.2,498.6 L726.6,499.7 L725.9,500.6 L725.2,501 L724.5,501.1 L723.8,500.9 L723.3,500.2 L722.8,499.2 L722.6,497.9 L722.5,496.5 L722.6,495 L722.9,493.6 L723.4,492.2 L724,491.1 L724.7,490.2 L725.4,489.8 L726.1,489.7 L726.8,489.9 L727.3,490.6 L727.8,491.6 L728,492.9 L728.1,494.3Z"/><path d="M728.7,495.9 L728.3,497.5 L727.8,499 L727,500.3 L726.2,501.2 L725.3,501.7 L724.4,501.8 L723.6,501.5 L722.8,500.7 L722.3,499.6 L721.9,498.2 L721.8,496.6 L721.9,494.9 L722.3,493.3 L722.8,491.8 L723.6,490.5 L724.4,489.6 L725.3,489.1 L726.2,489 L727,489.3 L727.8,490.1 L728.3,491.2 L728.7,492.6 L728.8,494.2Z"/><path d="M1140.9,274.8 L1132.3,279.7 L1132.3,292.8"/><path d="M1132.3,285.9 L1137.5,282.9"/><path d="M1144.7,285.7 L1144.7,272.6 L1151.6,268.7 L1153.3,269.6 L1153.3,272.4 L1151.6,275.3 L1144.7,279.2"/><path d="M1149,276.7 L1153.3,280.8"/><path d="M1157.1,265.6 L1165.7,260.7 L1165.7,273.8 L1157.1,278.7 L1157.1,265.6"/><path d="M1169.5,271.6 L1169.5,258.5 L1178.1,266.7 L1178.1,253.6"/><path d="M1181.9,251.4 L1190.5,246.5"/><path d="M1186.2,249 L1186.2,262.1"/><path d="M1195.6,242.7 L1213,234.3 L1212.5,222.5 L1228,231.5 L1213,258.5 L1212.5,246.5 L1195.6,256.2" stroke-width="2"/><path d="M250,125 L233.8,143.8 L228.1,156.2 L226.9,163.1 L228.8,167.5 L232.5,172.5 L234.8,178.1 L237.5,172.5 L236.9,165 L238.1,157.5 L243.1,150 L262.5,115"/><path d="M266.5,118.1 L251.9,142.5 L245,154.4 L239,163.8"/><path d="M237.5,172.5 L241.9,169.4 L248.8,166.9 L255,161.2 L262.5,146.2 L267.5,142.5 L276.2,140.6 L283.8,138.8 L288.1,133.8 L288.5,112.5 L286.2,110.2 L277.5,109.8 L272.5,110.6 L270.6,108.8 L268.1,106.9 L266.2,109.4 L263.1,111.2 L256.2,113.1 L253.1,116.2 L250,122.5 L250,125 L252.5,127.5"/><path d="M263.1,111.2 L263.1,117.5 L262.5,133.8 L265,138.8 L268.1,140.6"/><path d="M270,111.2 L269.4,122.5 L266.9,130 L266.9,135.6 L270,139.4"/><path d="M274,110.6 L273.5,125 L273.1,133.8 L276.2,136.2 L285,136.9"/><path d="M278.5,111.2 L278.1,122.5 L275,134.4"/><path d="M262.5,126.2 L270,123.8 L278.5,122.2 L287.5,123.5"/><path d="M250.6,140.6 L264.4,138.1"/><path d="M251.9,138.8 L253.8,143.1 L257.5,145.6 L262.5,146.2"/><path d="M250,147.5 L245,155 L247.5,158.1 L253.8,159.4"/><path d="M238.8,163.8 L245,158.8"/><path d="M251.9,146.2 L248.8,153.1"/><path d="M232.5,143.8 L235,144.4"/><path d="M238.8,138.1 L240,138.8"/><path d="M241.2,170 L242.5,168.1 L247.5,167.5 L250,165"/><path d="M213.8,119.4 L198.8,168.1" stroke-dasharray="7 3"/><path d="M213.8,119.4 L225,117.5 L232.5,117.2 L240,118.1 L248.8,120.2" stroke-dasharray="8 3"/><path d="M225,120.6 L248.8,125" stroke-dasharray="9 3"/><path d="M198.8,168.1 L233.1,175.6" stroke-dasharray="9 3"/><path d="M155,166.6 L155,159.4 L156.2,156.9 L158.1,155.3 L163.1,155.9 L164.7,157.2 L163.8,161.2 L162.5,165 L161.6,167.2 L158.4,167.5Z"/><path d="M158.8,158.4 L158.4,166.9" stroke-width="2.5"/><path d="M160.6,158.4 L160,163.8"/><path d="M163.1,157.2 L160.3,161.2"/><path d="M160,165 L162.2,165.3"/><path d="M164.7,159.1 L168.8,159.4 L172.5,160.6 L176.9,161.4 L178.8,162.2 L179.1,166.2 L177.5,167.5 L172.5,167.5 L167.5,166.2 L162.5,165"/><path d="M167.8,159.5 L167.8,166.2"/><path d="M170,159.9 L170,166.6"/><path d="M172.8,160.9 L172.8,167.5"/><path d="M174.1,161.1 L174.1,167.5"/><path d="M177.2,161.6 L177.2,167.5"/><path d="M180,165.1 L183.8,165.4"/><path d="M184.1,166.2 L188.1,166.6"/><path d="M188.1,167.2 L189.7,167.5"/><path d="M193.1,168.4 L198.1,168.4"/><path d="M392.2,92.2 L394.1,93.1 L400.6,93.1 L402,95 L401.1,100.6 L399.2,103.5 L399.2,109.1 L402,111.4 L401.6,115.7 L399.7,119.4 L396.4,119.4 L392.2,118 L394.1,111 L392.2,108.6 L392.2,101.6 L394.1,99.7 L394.5,94.1Z"/><path d="M392.2,102.1 L399.2,103"/><path d="M392.7,108.6 L399.2,110"/><path d="M394.1,105.2 L396.9,105.2 L396.9,107.7 L394.1,107.7Z"/><path d="M399.7,103 L399.7,109.1" stroke-width="2"/><path d="M394.1,93 L400.6,93" stroke-width="2"/><path d="M400.2,116.1 L399.2,118.9" stroke-width="2"/><path d="M438.7,81.1 L437.9,82.4 L436.9,83.4 L435.7,84.2 L434.4,84.6 L433.1,84.7 L432,84.3 L430.9,83.6 L430.2,82.6 L429.7,81.4 L429.5,80 L429.7,78.5 L430.2,77.1 L430.9,75.8 L432,74.7 L433.1,73.9 L434.4,73.5 L435.7,73.5 L436.9,73.8 L437.9,74.5 L438.7,75.5 L439.2,76.7 L439.3,78.2 L439.2,79.6Z"/><path d="M435.6,81.5 L435,82.6 L434.2,83.4 L433.2,84.1 L432.2,84.4 L431.3,84.5 L430.4,84.3 L429.6,83.7 L429,82.9 L428.7,82 L428.6,80.8 L428.7,79.7 L429.1,78.5 L429.7,77.5 L430.5,76.6 L431.5,75.9 L432.4,75.6 L433.4,75.5 L434.3,75.8 L435.1,76.3 L435.7,77.1 L436,78.1 L436.1,79.2 L436,80.4Z"/><path d="M433.1,81.3 L432.5,82.3 L431.7,83.1 L430.8,83.5 L430.1,83.4 L429.5,82.8 L429.3,82 L429.3,80.9 L429.7,79.7 L430.4,78.6 L431.2,77.9 L432,77.5 L432.8,77.6 L433.3,78.1 L433.6,79 L433.5,80.1Z"/><path d="M428.8,76.7 L421.3,83.8 L419.9,88 L421.3,89.6 L426,89.6 L431.1,85.2"/><path d="M422.4,83.8 L424.3,88.6"/><path d="M424.7,82.1 L426.5,87.3"/><path d="M426.9,80.4 L428.8,86"/><path d="M429.2,78.7 L431,84.7"/><path d="M420.5,87.5 L421.7,86.1" stroke-width="2"/><path d="M401.6,101.6 L408.6,97.4"/><path d="M412.4,94.5 L419.9,88.9"/><path d="M320.9,133.4 L315.5,131.9 L314.4,128 L317.8,124.8 L328.8,121.7 L347.5,121.7 L420.9,135.8"/><path d="M318.6,125.6 L323.3,125.6 L324.8,128 L321.7,133.4"/><path d="M320.2,127.2 L321.7,128.8 L320.6,131.9"/><path d="M326.4,125.6 L331.9,126.4 L435,146.7"/><path d="M327.2,131.1 L431.9,151.4"/><path d="M326.4,125.6 L322.5,135 L304.5,166.2"/><path d="M318.6,138.9 L308.4,149.1 L300.6,163.9"/><path d="M316.2,141.2 L310,147.5"/><path d="M305.3,168.6 L411.6,188.9"/><path d="M305.3,181.9 L410,200.6"/><path d="M305.3,168.6 L303.4,167 L300.6,170.9 L300.3,178.8 L305.3,182.2"/><path d="M305.3,168.6 L303.8,174.1 L305.3,180.3"/><path d="M300.6,165.5 L294.4,166.2 L291.6,170.9 L292.8,176.4 L296.7,179.5 L299.8,178.8"/><path d="M296.7,169.4 L295.2,173.3 L296.2,178"/><path d="M298.3,168.6 L299.8,170.2"/><path d="M411.6,188.9 L414.7,194.4 L413.1,199.8 L410,200.6 L408.4,196.7Z"/><path d="M432.7,151.4 L411.6,188.1"/><path d="M437.3,157.7 L414.7,195.2"/><path d="M435,147.5 L438.9,155.3 L437.3,157.7 L435,152.2"/><path d="M420.2,135.8 L427.2,129.5 L433.4,128.8 L435,131.9 L431.1,138.9 L428,138.1"/><path d="M426.4,131.1 L428.8,135.8"/><path d="M422.5,135 L428,138.1"/><path d="M432.7,140.5 L441.2,133.4 L445,131.9 L447.5,133.4 L449.1,137.3 L441.2,141.2 L435,146.7"/><path d="M439.7,135 L442,140.5"/><path d="M526.9,85.2 L592.5,96.1 L589.4,102.3 L562,131.2 L504.2,116.4 L505.8,113.3Z"/><path d="M589.4,102.3 L587.8,100"/><path d="M530,90.6 L533.9,89.4 L587.8,99.2"/><path d="M526.1,94.5 L530,90.6 L534.7,98.4 L580,106.2"/><path d="M526.1,94.5 L531.6,96.9"/><path d="M526.1,85.6 L508.1,82.8 L507.3,99.2 L515.2,103.9"/><path d="M511.2,90.6 L516.7,94.5 L517.5,98.4"/><path d="M516.7,94.5 L525.3,86.2"/><path d="M524.5,101.6 L548.8,105.5 L540.2,118 L513.6,113.3Z"/><path d="M525.3,104.7 L545.6,108.6 L538.1,116.4 L520.9,112.5Z"/><path d="M517.5,111.7 L523,103.1"/><path d="M547.2,109.4 L571.4,113.3 L565.2,121.9 L544.8,118Z"/><path d="M551.9,111.7 L569.8,115.3"/><path d="M589.4,103.1 L593.3,106.2 L595.6,120.3 L598.8,121.9 L606.6,132 L610.5,131.2 L608.9,137.5 L609.7,153.1 L607.3,157.8 L601.1,160.9 L601.1,168.8 L600.3,172.7 L598.8,169.5 L575.3,165.6"/><path d="M580,111.7 L592.5,114.1"/><path d="M510.5,120.3 L503.4,146.9 L498,174.2 L495.6,177.3 L495.6,188.3 L497.2,196.9 L498.8,205.5 L500.3,212.5 L507.3,220.3 L545.6,227.3"/><path d="M513.6,128.9 L556.6,137.5"/><path d="M509.7,151.1 L551.9,159.4"/><path d="M495.6,178.1 L545.6,187.5"/><path d="M498,196.9 L545.6,206.2"/><path d="M494.8,189.8 L490.9,191.4 L489.4,196.9 L491.7,203.1 L497.2,204.7"/><path d="M498.8,206.2 L491.7,210.2 L488.6,216.4 L488.6,229.7 L548,241.4 L548,245.3 L552.7,234.4 L551.1,226.6 L549.5,209.4 L548.8,189.1"/><path d="M494.1,218.8 L500.3,207"/><path d="M562.8,133.6 L558.1,153.1 L554.2,165.6 L552.7,173.4 L549.5,189.1 L548.8,204.7 L550.3,209.4"/><path d="M553.9,134.7 L558.1,134.2 L563.8,133.8 L563.8,138.9 L560,139.9 L558.1,138.5 L553.9,137.5Z"/><path d="M559.3,135.2 L559.6,139.6" stroke-width="1.8"/><path d="M562.2,130.5 L563.8,133.8"/><path d="M540.9,183.6 L548.8,183.6 L545.6,187.5 L540.9,186.7Z"/><path d="M568.2,186 L567.8,187.5 L567,188.9 L566.1,190.1 L565,190.9 L563.7,191.3 L562.5,191.3 L561.4,190.9 L560.3,190.1 L559.6,188.9 L559.1,187.5 L558.9,186 L559,184.3 L559.4,182.8 L560.1,181.4 L561.1,180.2 L562.2,179.4 L563.4,179 L564.7,179 L565.8,179.4 L566.8,180.2 L567.6,181.4 L568.1,182.8 L568.3,184.3Z"/><path d="M560.5,182.8 L559.7,187.5 L562,190.6"/><path d="M551.1,175.8 L561.2,178.9"/><path d="M550.3,189.1 L561.2,191.4"/><path d="M549.5,204.7 L556.6,192.2"/><path d="M545.6,225.8 L548.8,225 L551.1,228.1 L547.2,229.7Z"/><path d="M567,129.1 L589.1,133.8 L592.8,137 L596.6,142.7 L599.4,147.8 L601.3,158.2 L599.9,161"/><path d="M560,140.3 L571.7,142.7 L572.2,149.7 L568.9,154.4 L563.3,161.9 L560.5,166.1 L555.3,165.7"/><path d="M589.1,133.8 L574.5,146 L572.2,149.7"/><path d="M574.5,146 L586.7,148.3 L591.9,139.4 L596.6,142.7"/><path d="M586.7,148.3 L586.3,157.2 L579.7,156.3 L578.8,160 L593.8,161.9 L597.5,161 L596.1,152.5 L596.6,142.7"/><path d="M592.8,149.7 L592.4,154.4 L594.7,152.5 L596.1,152.5"/><path d="M568.9,154.4 L576,155.8 L576.9,159.1 L578.8,158.6"/><path d="M576.9,159.1 L568.5,175"/><path d="M563.3,161.9 L572.2,163.8 L576,160"/><path d="M555.3,166.1 L567.5,171.8 L568.5,175"/><path d="M560,147.8 L559.1,154.4" stroke-width="1.8"/><path d="M577.8,116.9 L576.9,122 L573.6,123.9 L573.1,122.5"/><path d="M577.4,121.1 L590,122 L596.1,121.1"/><path d="M553.4,173.4 L565.2,175.8 L568.4,174.4"/><path d="M654.5,113.8 L660.4,107.9 L660.9,115.5 L663.3,119.1 L668.6,119.6 L670.3,126.1 L668,129.6"/><path d="M654.5,113.8 L649.2,120.2 L649.8,126.1 L646.9,127.9 L644.5,130.2 L643.9,133.7 L640.4,137.2 L638.7,139.6 L635.2,139.6 L634.6,136.6 L630.5,138.4 L628.7,143.7 L628.7,148.4 L624.6,163.6 L621.1,175 L617.6,189 L619.9,190.8 L619.9,194.3 L622.9,194.3 L622.9,190.8 L625.2,189 L629.9,175 L635.2,148.4 L636.3,140.2"/><path d="M634,168.3 L633.4,186.7"/><path d="M651.6,128.4 L649.2,149.5 L651.6,156.6 L641,173 L637.5,173 L634,168.3"/><path d="M643,153.4 L642.7,154.5 L642.3,155.6 L641.8,156.4 L641.2,157 L640.5,157.4 L639.8,157.5 L639.2,157.2 L638.6,156.7 L638.2,155.9 L637.9,154.9 L637.8,153.8 L637.9,152.7 L638.1,151.6 L638.5,150.5 L639.1,149.7 L639.7,149.1 L640.4,148.7 L641.1,148.6 L641.7,148.9 L642.2,149.4 L642.7,150.2 L643,151.2 L643.1,152.3Z"/><path d="M649.8,128.4 L662.1,127.3"/><path d="M655.1,123.2 L663.3,122.6"/><path d="M652.7,129 L652.7,133.1" stroke-width="2"/><path d="M668,129 L675,134.3 L680.9,144.8 L683.2,161.3"/><path d="M670.3,130.8 L677.3,140.2 L680.3,151.9 L680.9,160.1"/><path d="M666.8,130.2 L672.7,139 L676.8,154.2 L677.9,162.4"/><path d="M666.8,130.2 L659.8,141.3 L669.1,141.3 L670.3,143.7 L665.6,145.4 L660.9,143.7 L651.6,156.6"/><path d="M663.9,144.8 L651.6,175 L641,190.2"/><path d="M670.3,149.5 L661.5,175 L658.6,180.2 L638.7,216 L631.6,230"/><path d="M655.7,143.1 L659.8,143.7"/><path d="M663.3,145.4 L663.9,151.9"/><path d="M667.4,158.3 L672.1,159.5 L672.7,164.8 L666.8,164.2Z"/><path d="M672.7,164.8 L677.9,165.4 L677.3,161.3"/><path d="M668,165.9 L673.2,169.5 L677.9,165.4"/><path d="M657.4,168.3 L663.9,169.5 L662.1,175.3 L656.3,174.1"/><path d="M657.4,173 L660.9,173.6"/><path d="M653.3,180.2 L658.6,180.8"/><path d="M631.6,181.4 L628.7,191.4 L629.9,193.7 L632.8,190.2"/><path d="M629.9,194.9 L619.9,208.9 L619.3,213.6 L621.1,221.8 L621.7,227.7"/><path d="M639.8,199.6 L627,230"/><path d="M636.3,182.6 L641,183.2 L642.2,185.5 L639.8,189 L638.7,193.7 L641,198.4 L639.8,200.2" stroke-width="1.6"/><path d="M635.2,197.2 L643.9,197.8"/><path d="M615.2,227.1 L621.1,227.7 L621.1,230 L618.8,231.2 L621.7,233.6 L621.7,238.2 L619.3,242.9 L616.4,241.8 L618.2,237.1 L618.2,233 L614.6,232.4Z"/><path d="M624,228.9 L634.6,231.2 L635.2,235.3 L629.3,234.1 L627,242.9 L619.3,244.1"/><path d="M627.5,229.5 L628.1,231.2" stroke-width="2"/><path d="M760.3,19.1 L765,16.3 L772.5,16.3 L888.8,39.3 L892.1,41.6 L892.1,49.1 L888.8,53.4 L883.1,56.6 L875.6,58.4 L871.9,63.1 L864.4,71.6 L856.9,75.3 L850.3,76.3 L745.3,54.7 L742.5,51.9 L742.5,45.3 L753.8,31.3 L756.6,30.3 L753.8,28.4 L757.5,23.8Z"/><path d="M766.9,20.9 L885.9,43.4 L880.3,50 L761.3,27.5Z"/><path d="M763.1,32.2 L783.8,36.5 L772.5,50 L750,45.9Z"/><path d="M784.7,41.6 L808.1,46.3 L798.8,55.3 L777.2,50.9Z"/><path d="M815.6,46.6 L837.2,51.5 L829.7,61.3 L806.3,56.6Z"/><path d="M845.6,48.5 L868.1,53.4 L856.9,66.5 L833.4,61.3Z"/><path d="M763.1,80.9 L847.5,97.8 L849.4,96.9 L852.2,99.7 L857.8,98.8 L860.6,97.8 L862.5,101.6 L864.4,103.4 L860.6,105.3 L859.7,108.1 L855,107.8 L852.2,110 L848.4,107.8 L843.8,107.2 L841.9,108.1 L840,106.3 L755.6,89.4 L753.8,91.6 L751.9,90.3 L748.1,88.4 L741.6,89.4 L744.4,86.6 L739.7,85.6 L738.8,82.8 L743.4,80 L749.1,81.9 L750.9,79.1 L753.8,79.1 L761.3,82.8Z"/><path d="M710.2,135.4 L710.6,127.2 L830,150 L830,156.9"/><path d="M711,130.4 L830,153"/><path d="M820,151.2 L818.1,156.5 L710.2,135.4"/><path d="M818.1,156.5 L830,156.2"/><path d="M763.8,140.6 L763.8,145.6"/><path d="M767.5,141.5 L766.6,146.2"/><path d="M832.5,150.6 L832.5,156"/><path d="M830,150 L832.5,150.6 L841.2,153.1 L842.5,155 L841.2,157.2 L832.5,156 L830,156.5"/><path d="M837.5,152.2 L838.8,156.2"/><path d="M712.5,162.5 L701.2,160.6 L701.2,165 L709.4,166.9"/><path d="M712.5,162.5 L820,183.8"/><path d="M712.5,163.1 L701.2,176.9 L701.2,181.9 L754.4,191.5 L753.8,186.9 L701.2,176.9"/><path d="M765,173.8 L753.8,186.9"/><path d="M768.1,174.4 L756.9,188.1"/><path d="M756.9,188.1 L810,198.1 L820,184.4"/><path d="M756.9,188.1 L756.9,192.5 L808.8,202.5 L810,198.1"/><path d="M808.8,202.5 L823.1,185.6"/><path d="M820,182.5 L823.1,183.1 L823.8,189.4 L820.6,188.8Z"/><path d="M821.9,183.1 L822.2,189"/><path d="M823.8,185 L831.2,185.6 L833.8,187.5 L832.5,190.2 L827.5,189.4 L823.8,188.8"/><path d="M827.5,186.2 L828.8,189.4"/><path d="M707.3,205 L815.2,225.3 L813.6,244.1 L800.3,266.7 L693.3,247.2 L693.3,226.9Z"/><path d="M693.3,226.9 L800.3,248.8 L815.2,225.3"/><path d="M800,248.8 L800,266.7" stroke-width="2"/><path d="M705.8,229.9 L715.2,211.9 L717,226"/><path d="M726.9,234.2 L736.2,216.2 L738.1,230.3"/><path d="M737.8,236.4 L747.2,218.5 L749.1,232.5"/><path d="M749.5,238.8 L758.9,220.9 L760.8,234.9"/><path d="M761.2,241.2 L770.6,223.3 L772.5,237.3"/><path d="M771.4,243.3 L780.8,225.3 L782.7,239.4"/><path d="M781.6,245.4 L790.9,227.4 L792.8,241.5"/><path d="M792.5,247.6 L801.9,229.7 L803.8,243.7"/><path d="M717.5,223.8 L725,211.2"/><path d="M799.1,226.9 L800.3,231.6" stroke-width="1.6"/><path d="M703.4,229.2 L702.7,244.1 L698.8,245.6 L693.3,247.2"/><path d="M694.1,244.1 L703.4,230"/><path d="M693.3,227.2 L703.4,229.2"/><path d="M690.9,238.6 L692.8,239.1 L692.8,241.7 L690.9,241.2Z"/><path d="M723.8,233.1 L723.8,252.7" stroke-width="1.5"/><path d="M746.4,237.8 L745.6,256.6"/><path d="M769.1,242.5 L768.3,260.5"/><path d="M790.2,247.2 L790.2,265.2"/><path d="M713.6,231.6 L713.1,242.5 L715.2,247.2 L718.3,250"/><path d="M780,244.8 L778.8,253.4 L776.1,258.1 L773.4,260.5"/><path d="M790.2,247.2 L790.9,257.3 L793.3,262 L795.9,265.6"/><path d="M998.6,174.4 L1054.8,184.5 L1061.1,188.4 L1061.1,192.3 L1054.8,197 L1047.8,200.2 L1040,204.1 L1032.2,213.4 L1025.2,216.6 L968.1,207.2Z"/><path d="M997,178.8 L1053.3,189.2 L1047.8,195.5 L990,185.3"/><path d="M985.3,193.9 L1007.2,197.8 L999.4,207.2 L975.2,203.3Z"/><path d="M986.9,197 L1004.1,200.2 L998.6,205.9 L980.6,202.8Z"/><path d="M1013.4,195.5 L1035.3,198.6 L1033.8,201.7 L1025.9,211.1 L1004.1,207.2Z"/><path d="M1011.1,198.6 L1033.8,201.7"/><path d="M1008.8,202.5 L1011.1,198.6"/><path d="M968.1,207.2 L968.1,212.7 L1022,220 L1032.2,213.4"/><path d="M968.1,212.7 L965.8,215 L966.6,218.1 L968.9,217.3 L1016.6,225.2"/><path d="M965.8,215 L959.5,235.3 L958.8,244.7 L958,244.7 L951.7,263.4 L952.5,266.6 L951.7,280.6 L954.1,302.5 L954.8,305.6 L950.9,313.4 L950.2,321.2 L1015,330.6 L1022.8,327.5 L1025.2,322.8 L1021.2,319.7 L1017.3,318.9"/><path d="M959.5,235.3 L958.8,240" stroke-width="2"/><path d="M963.4,237.7 L1011.1,247"/><path d="M952.5,265.8 L1004.8,275.2"/><path d="M955.6,285.3 L976.7,289.2"/><path d="M993.1,292.3 L1009.5,295.5"/><path d="M964.2,307.2 L1002.5,315 L1012.7,313.4"/><path d="M976.7,278.3 L992.3,280.6 L993.9,292.3 L991.6,296.2 L977.5,293.9Z"/><path d="M1021.2,219.7 L1016.6,244.7 L1008.8,273.6 L1009.5,295.5 L1012.7,294.7 L1017.3,290"/><path d="M1061.1,188.4 L1076.7,192.3 L1076.7,208 L1063.4,206.4 L1059.5,205.6 L1059.5,197.8 L1063.4,197 L1063.4,206.4"/><path d="M1063.4,197 L1075.9,193.4"/><path d="M1068.4,199.7 L1072,199.7 L1072,202.5 L1068.4,202.5Z"/><path d="M1040,204.8 L1038.8,218.1 L1037.7,224.4" stroke-width="1.8"/><path d="M1047.8,206.4 L1057.2,207.2 L1055.6,210.3"/><path d="M1051.7,211.1 L1052.5,218.1 L1049.4,221.2 L1060.3,222"/><path d="M1037.7,223.6 L1063.4,226.7 L1064.2,229.8 L1055.6,229.8"/><path d="M1056.4,210.3 L1063.4,219.7 L1066.6,233.8 L1067.3,246.2 L1075.9,249.4 L1076.7,255.6 L1065,263.4 L1061.1,272.8 L1055.6,273.6"/><path d="M1055.2,229.1 L1054.5,230.3 L1053.6,231.2 L1052.6,231.6 L1051.6,231.5 L1050.8,230.9 L1050.3,230 L1050.2,228.7 L1050.5,227.4 L1051.1,226.3 L1052,225.4 L1053,225 L1054,225.1 L1054.8,225.6 L1055.3,226.6 L1055.4,227.8Z"/><path d="M1052,235.4 L1051.4,236.7 L1050.4,237.6 L1049.4,238.1 L1048.4,238.1 L1047.6,237.5 L1047.1,236.4 L1047,235.1 L1047.3,233.7 L1048,232.4 L1048.9,231.4 L1050,230.9 L1051,231 L1051.8,231.6 L1052.3,232.6 L1052.3,234Z"/><path d="M1037,239.2 L1036.3,240.4 L1035.5,241.2 L1034.6,241.6 L1033.9,241.6 L1033.3,241 L1033.1,240.1 L1033.2,238.9 L1033.6,237.6 L1034.3,236.5 L1035.1,235.7 L1036,235.3 L1036.8,235.3 L1037.3,235.9 L1037.5,236.8 L1037.4,238Z"/><path d="M1047.8,230.6 L1055.6,232.2"/><path d="M1032.2,236.9 L1030.6,242.3 L1033.8,243.1"/><path d="M1025.2,218.9 L1029.1,230.6 L1032.2,236.9 L1027.5,242.3 L1021.2,243.9"/><path d="M1021.2,243.9 L1040,250.2 L1033.8,254.1 L1015,250.2"/><path d="M1033.8,240 L1061.9,243.1 L1060.3,249.4 L1049.4,265"/><path d="M1043.1,258 L1043,259.3 L1042.7,260.5 L1042.2,261.5 L1041.6,262.3 L1040.8,262.8 L1040,263 L1039.2,262.8 L1038.4,262.3 L1037.8,261.5 L1037.3,260.5 L1037,259.3 L1036.9,258 L1037,256.7 L1037.3,255.5 L1037.8,254.4 L1038.4,253.6 L1039.2,253.1 L1040,253 L1040.8,253.1 L1041.6,253.6 L1042.2,254.4 L1042.7,255.5 L1043,256.7Z"/><path d="M1037.7,254.1 L1036.9,258.8 L1038.4,261.9" stroke-width="1.6"/><path d="M1043.9,253.3 L1047.8,254.8 L1048.6,261.9 L1044.7,264.2"/><path d="M1047.8,262.7 L1056.4,265 L1055.6,273.6"/><path d="M1008.8,273.6 L1019.7,274.4 L1026.7,266.6 L1022,269.7"/><path d="M1026.7,266.6 L1033,267.3 L1033.8,254.1"/><path d="M1017.3,280.6 L1035.3,285.3 L1038.4,279.1 L1041.6,279.1 L1042.3,286.9 L1035.3,285.3"/><path d="M1043.1,287.7 L1043.1,290.8" stroke-width="2"/><path d="M1047.8,263.4 L1055.6,282.2 L1064.2,286.9 L1061.9,289.2 L1025.9,292.3 L1016.6,290 L1018.1,307.2 L1022.8,313.4 L1030.6,293.1"/><path d="M1043.1,291.6 L1025.2,322.8"/><path d="M1008.8,300.2 L1017.3,301.7 L1016.6,308.8 L1012.7,313.4Z"/><path d="M951.7,304.1 L955.6,304.8"/><path d="M952.5,306.4 L954.8,303.3"/><path d="M605.2,258.1 L663.4,269.2 L663.8,272.7 L659.8,278.9 L643.4,320.3 L630.2,318.4 L598.1,312.5 L584.8,309.4 L590.3,293 L593.4,283.6 L595.8,276.6Z"/><path d="M610.9,261.7 L601.2,283.6"/><path d="M614.5,262.5 L604.7,284.4"/><path d="M597.3,291.4 L591.1,307.8"/><path d="M601.2,291.9 L595,308.6"/><path d="M653.6,269.5 L643.4,291.9"/><path d="M657.8,270.3 L647.7,292.5"/><path d="M639.5,300 L633.3,317.2"/><path d="M644.2,300.3 L637.5,318.4" stroke-width="1.7"/><path d="M611.9,289.4 L617.7,290.3"/><path d="M623.1,291.4 L630.2,292.5"/><path d="M702.8,278.3 L761,289.4 L761.4,292.9 L757.4,299.1 L741,340.5 L727.8,338.6 L695.7,332.7 L682.4,329.6 L687.9,313.2 L691,303.8 L693.4,296.8Z"/><path d="M708.5,281.9 L698.9,303.8"/><path d="M712.1,282.7 L702.3,304.6"/><path d="M694.9,311.6 L688.7,328"/><path d="M698.9,312.1 L692.6,328.8"/><path d="M751.2,289.7 L741,312.1"/><path d="M755.4,290.5 L745.3,312.7"/><path d="M737.1,320.2 L730.9,337.4"/><path d="M741.8,320.5 L735.1,338.6" stroke-width="1.7"/><path d="M709.5,309.6 L715.3,310.5"/><path d="M720.7,311.6 L727.8,312.7"/><path d="M554.4,332.5 L563.8,331.7 L564.5,338 L554.4,337.2Z"/><path d="M558.3,333.3 L560.6,334.8 L558.3,335.6"/><path d="M564.5,332.5 L570.8,333.3"/><path d="M564.5,338 L570,340.3"/><path d="M580.4,337.3 L580.6,339.5 L580.4,341.7 L579.9,343.5 L579.1,345 L578.1,346 L577,346.5 L575.7,346.4 L574.5,345.7 L573.3,344.4 L572.4,342.8 L571.6,340.8 L571.1,338.6 L571,336.4 L571.2,334.3 L571.7,332.4 L572.4,330.9 L573.4,329.9 L574.6,329.5 L575.8,329.6 L577.1,330.3 L578.2,331.5 L579.2,333.1 L580,335.1Z"/><path d="M575,338 L575.1,339.7 L575,341.3 L574.7,342.7 L574.2,343.8 L573.6,344.6 L572.8,344.9 L572,344.8 L571.1,344.3 L570.3,343.3 L569.7,342.1 L569.1,340.5 L568.8,338.9 L568.6,337.2 L568.7,335.6 L569,334.1 L569.5,333 L570.2,332.3 L571,331.9 L571.8,332 L572.6,332.6 L573.4,333.5 L574.1,334.8 L574.6,336.3Z"/><path d="M573.1,330.2 L578.6,329.4 L581.7,330.9"/><path d="M573.9,345.8 L578.6,345.8 L580.2,343.4"/><path d="M580.2,333.3 L615.3,340.3"/><path d="M580.2,336.9 L613.8,343.4"/><path d="M579.4,343.4 L613.8,349.7"/><path d="M625,345.4 L625.1,347.7 L624.9,349.8 L624.4,351.7 L623.7,353.1 L622.7,354.1 L621.5,354.6 L620.3,354.5 L619,353.8 L617.9,352.6 L616.9,350.9 L616.1,348.9 L615.7,346.7 L615.5,344.5 L615.7,342.4 L616.2,340.5 L617,339 L618,338 L619.1,337.6 L620.4,337.7 L621.6,338.4 L622.7,339.6 L623.7,341.3 L624.5,343.3Z"/><path d="M619.7,346.4 L619.8,348.1 L619.7,349.7 L619.4,351.2 L618.9,352.3 L618.2,353 L617.5,353.4 L616.6,353.3 L615.8,352.7 L615,351.8 L614.3,350.5 L613.8,349 L613.5,347.3 L613.3,345.6 L613.4,344 L613.7,342.6 L614.2,341.5 L614.9,340.7 L615.6,340.4 L616.5,340.5 L617.3,341 L618.1,342 L618.8,343.2 L619.3,344.8Z"/><path d="M618.4,341.9 L622.3,343.4 L621.6,349.7 L618.4,351.2"/><path d="M624.7,345 L635.6,348.1 L634.8,350.5 L623.9,348.9"/><path d="M674.2,357 L674,357.9 L673.5,358.7 L672.8,359.2 L671.9,359.4 L671,359.2 L670.2,358.7 L669.7,357.9 L669.5,357 L669.7,356.1 L670.2,355.4 L671,354.9 L671.9,354.7 L672.8,354.9 L673.5,355.4 L674,356.1Z"/><path d="M670.9,356.2 L672.8,357.5"/><path d="M685.6,356.4 L685.7,358.7 L685.4,360.8 L684.8,362.7 L683.9,364.2 L682.7,365.2 L681.4,365.7 L679.9,365.6 L678.5,364.9 L677.2,363.7 L676.1,362.1 L675.2,360.1 L674.7,357.9 L674.6,355.7 L674.9,353.6 L675.5,351.7 L676.4,350.2 L677.6,349.2 L679,348.7 L680.4,348.8 L681.8,349.4 L683.1,350.6 L684.2,352.3 L685.1,354.2Z"/><path d="M679.7,357.1 L679.8,358.8 L679.7,360.4 L679.4,361.8 L678.9,362.9 L678.2,363.7 L677.5,364 L676.6,363.9 L675.8,363.3 L675,362.4 L674.3,361.1 L673.8,359.6 L673.5,357.9 L673.3,356.2 L673.4,354.6 L673.7,353.2 L674.2,352.1 L674.9,351.3 L675.6,351 L676.5,351.1 L677.3,351.7 L678.1,352.6 L678.8,353.9 L679.3,355.4Z"/><path d="M677.8,349.7 L682.5,348.9 L686.4,351.2"/><path d="M677.8,365.3 L682.5,365.3 L684.8,363"/><path d="M686.4,353.6 L695,352 L716.9,358.3"/><path d="M684.1,355.6 L716.9,361.9"/><path d="M682.5,362.5 L716.9,368.8"/><path d="M728.1,364.6 L728.2,366.8 L727.9,368.9 L727.3,370.8 L726.4,372.3 L725.2,373.3 L723.9,373.8 L722.4,373.7 L721,373.1 L719.7,371.9 L718.6,370.2 L717.7,368.3 L717.2,366.1 L717.1,363.8 L717.4,361.7 L718,359.8 L718.9,358.3 L720.1,357.3 L721.5,356.8 L722.9,356.9 L724.3,357.6 L725.6,358.8 L726.7,360.4 L727.6,362.4Z"/><path d="M721.8,365.2 L722,366.9 L721.9,368.5 L721.6,369.9 L721.1,371 L720.4,371.8 L719.7,372.1 L718.8,372 L718,371.5 L717.2,370.5 L716.5,369.3 L716,367.7 L715.7,366.1 L715.5,364.4 L715.6,362.8 L715.9,361.3 L716.4,360.2 L717.1,359.5 L717.8,359.1 L718.7,359.2 L719.5,359.8 L720.3,360.7 L721,362 L721.5,363.5Z"/><path d="M720.8,360.9 L724.7,362.5 L724.4,368.8 L720.8,370.3"/><path d="M727.8,361.4 L734.8,364.5 L739.5,365.3 L739.5,370.8 L734.8,371.6 L727.8,370"/><path d="M734.8,364.5 L734.8,371.6"/><path d="M730.9,363 L730.9,370.3"/><path d="M538,524.4 L560.3,483.4 L573.2,462.3 L574.4,455.2 L577.9,452.9 L690.4,475.2 L692.7,478.7"/><path d="M573.2,462.3 L682.2,483.4 L651.7,546.6 L649.4,557.2 L651.7,561.9"/><path d="M538,524.4 L534.5,526.7 L533.4,536.1 L535.7,539.6 L651.7,561.9 L655.2,561.4 L685.9,501.2"/><path d="M538,524.4 L651.7,546.6"/><path d="M654.5,547.3 L649.8,557.2"/><path d="M560.3,482.2 L559.1,484.5" stroke-width="1.6"/><path d="M691.6,475.5 L692.5,479.7 L693.9,483.4 L698.1,484.8 L700.9,487.2 L701.4,490.9 L699.5,494.2 L695.3,494.7 L693.9,498.4 L690.1,500.3 L685.5,499.8 L682.2,496.6 L684.1,490 L688.7,479.7Z"/><path d="M690.1,488.1 L693.4,484.4"/><path d="M688.7,495.6 L694.4,486.2"/><path d="M692,497.5 L695.8,488.1"/><path d="M700.6,490.3 L700.2,491.8 L699.5,493 L698.7,493.7 L697.9,493.9 L697.2,493.4 L696.7,492.5 L696.4,491.1 L696.6,489.6 L697,488.2 L697.6,487 L698.4,486.3 L699.3,486.1 L700,486.5 L700.5,487.5 L700.7,488.8Z"/><path d="M690.1,480.1 L685,490.9 L686.4,499.4"/><path d="M502.2,474.7 L507.8,474.2 L508.8,477.5 L507.4,483.1 L509.7,485 L509.7,489.2 L505,491.1 L504.5,493.9 L499.4,494.4 L497.5,492.5 L501.3,476.1Z"/><path d="M505.9,473.8 L508.8,468.6 L510.2,467.7 L513,467.7 L520,469.1"/><path d="M510.2,470 L519.1,471.9"/><path d="M505.8,472.8 L508.8,469.3" stroke-width="1.8"/><path d="M520,468.6 L522.4,467.2 L527.5,468.1 L527.5,469.1 L531.7,469.5 L533.6,470.5 L532.7,476.1 L530.3,476.4 L520,474.2 L519.3,471.4Z"/><path d="M531.7,470 L531.3,476.1" stroke-width="1.8"/><path d="M533.6,471.9 L535,473.3 L532.7,475.2"/><path d="M535.5,472.8 L540.7,474.2"/><path d="M534.1,475.2 L539.7,477"/><path d="M541.1,471.9 L546.3,471.7 L551,472.8 L552.7,475.2 L551.9,479.9 L550,481.3 L544.4,480.3 L540.2,478.5 L539.2,475.6Z"/><path d="M543,480.8 L546.3,481.7 L546.3,485.5Z"/><path d="M546.3,485.5 L549.6,494.4"/><path d="M551.4,500 L554.7,510.3 L557.1,516.4"/><path d="M738.9,494.2 L744,493.3 L747.3,494.2 L748.7,497.5 L747.3,503.1 L744,504.5 L741.2,504 L737.5,502.6 L741.2,500.8 L739.4,498.4 L738.4,495.6Z"/><path d="M741.2,495.6 L745,497 L743.1,500.3 L745.9,501.7"/><path d="M744,493.7 L745,497"/><path d="M741.2,500.8 L744,504"/><path d="M785.2,469.8 L782.8,465.9 L780.5,463.6 L778.1,465.2 L778.9,467.5 L782,469.8 L777.3,471.4 L773.4,475.3 L773.4,479.2 L778.1,482.3 L804.7,485.5 L796.9,490.9 L792.2,497.2 L791.4,508.1 L788.3,511.2 L770.3,508.9"/><path d="M785.9,469.8 L785.9,465.9 L792.2,465.9 L793,469.8"/><path d="M786.7,468.3 L789.1,468.3 L789.1,470.6 L786.7,470.6Z"/><path d="M796.9,466.7 L803.1,468.3 L803.1,477.7 L796.9,476.9Z"/><path d="M797.7,467.2 L797.7,476.9" stroke-width="1.8"/><path d="M781.2,478.4 L804.7,480.8 L814.1,483.1 L818,488.6 L817.2,494.1 L812.5,501.9 L806.2,507.3 L798.4,510.5"/><path d="M782,472.2 L781.2,478.4 L782.8,483.1"/><path d="M783.6,473.8 L795.3,476.9"/><path d="M804.7,485.5 L810.2,486.2 L801.6,492.5 L796.1,500.3 L795.3,509.7 L792.2,514.4 L787.5,516.7 L768.8,513.6"/><path d="M813.3,488.6 L803.1,501.9 L796.1,505"/><path d="M796.9,495.6 L806.2,490.2 L811.7,488.6"/><path d="M770.6,508.4 L770.1,510 L769.4,511.5 L768.6,512.9 L767.6,514.1 L766.6,515 L765.5,515.7 L764.4,516.2 L763.4,516.4 L762.3,516.2 L761.4,515.8 L760.5,515.1 L759.8,514.2 L759.2,513.1 L758.8,511.7 L758.6,510.2 L758.6,508.6 L758.8,507 L759.1,505.3 L759.6,503.7 L760.3,502.2 L761.1,500.9 L762.1,499.7 L763.1,498.7 L764.1,498 L765.2,497.6 L766.3,497.4 L767.4,497.5 L768.3,497.9 L769.2,498.6 L769.9,499.5 L770.5,500.7 L770.8,502 L771.1,503.5 L771.1,505.1 L770.9,506.8Z"/><path d="M768.8,501.9 L775.8,499.5 L777.3,501.9 L773.4,505 L773.4,508.1"/><path d="M773.4,505 L788.3,506.6"/><path d="M768.8,508.9 L767.2,514.1"/><path d="M771.1,502.7 L771.9,507.3" stroke-width="1.8"/><path d="M798.4,511.2 L804.7,512"/><path d="M809.4,513.1 L823.4,515.2"/><path d="M819.5,514.8 L819.5,519.8 L810.9,518.3"/><path d="M789.1,515.2 L803.1,517.5" stroke-dasharray="6 3"/><path d="M827.3,516.2 L832.8,517.2"/><path d="M833.6,515.2 L848.4,517.5 L863.3,519.8"/><path d="M834.4,520.6 L848.4,522.7 L862.5,524.8"/><path d="M833.6,515.2 L834.4,520.6"/><path d="M837.5,516.4 L838.1,521.5"/><path d="M841.1,516.9 L841.7,522.1"/><path d="M844.7,517.4 L845.3,522.6"/><path d="M848.4,518 L849.1,523.2"/><path d="M873.7,524.5 L873.4,526.2 L872.8,527.7 L872.2,529 L871.4,529.9 L870.5,530.5 L869.7,530.6 L868.9,530.2 L868.3,529.5 L867.8,528.4 L867.5,526.9 L867.4,525.3 L867.5,523.6 L867.9,522 L868.4,520.4 L869.1,519.2 L869.9,518.2 L870.7,517.7 L871.5,517.6 L872.3,517.9 L873,518.7 L873.5,519.8 L873.8,521.2 L873.9,522.8Z"/><path d="M870,523.9 L869.6,525.5 L869.1,526.9 L868.4,528.1 L867.7,529 L866.8,529.5 L866,529.6 L865.2,529.3 L864.6,528.6 L864.1,527.5 L863.8,526.2 L863.7,524.6 L863.8,523 L864.1,521.4 L864.6,520 L865.3,518.8 L866.1,517.9 L866.9,517.3 L867.7,517.2 L868.5,517.6 L869.2,518.3 L869.7,519.4 L870,520.7 L870.1,522.3Z"/><path d="M872.5,524.3 L872.2,525.4 L871.8,526.4 L871.2,527 L870.7,527.2 L870.2,526.8 L869.8,526.1 L869.6,525.1 L869.7,523.9 L870,522.7 L870.4,521.7 L871,521.1 L871.5,521 L872,521.3 L872.4,522 L872.5,523.1Z"/><path d="M867.2,517.5 L871.1,517.8"/><path d="M867.2,529.7 L871.1,530.3"/><path d="M875.5,403.8 L884.1,400 L898.8,401.2 L903.9,402.4 L910.8,401.7 L913.4,408.9 L912.5,416.6 L905.6,421.8 L903.9,417.5 L875.5,411.5Z"/><path d="M876.1,405.5 L903,405.8"/><path d="M903.9,402.4 L905.6,417.5"/><path d="M907.3,407.2 L908.2,415.8"/><path d="M889.1,409.9 L888.9,411.4 L888.2,412.6 L887.1,413.4 L885.9,413.7 L884.6,413.4 L883.6,412.6 L882.8,411.4 L882.6,409.9 L882.8,408.5 L883.6,407.3 L884.6,406.4 L885.9,406.2 L887.1,406.4 L888.2,407.3 L888.9,408.5Z"/><path d="M893.6,410.6 L893.4,412.1 L892.9,413.3 L892.1,414.1 L891.2,414.4 L890.3,414.1 L889.5,413.3 L889,412.1 L888.8,410.6 L889,409.2 L889.5,408 L890.3,407.1 L891.2,406.8 L892.1,407.1 L892.9,408 L893.4,409.2Z"/><path d="M901.5,412 L901.4,413.2 L901,414.3 L900.4,415.3 L899.7,416 L898.8,416.5 L897.9,416.6 L897,416.5 L896.1,416 L895.3,415.3 L894.8,414.3 L894.4,413.2 L894.3,412 L894.4,410.8 L894.8,409.7 L895.3,408.7 L896.1,408 L897,407.5 L897.9,407.4 L898.8,407.5 L899.7,408 L900.4,408.7 L901,409.7 L901.4,410.8Z"/><path d="M903,401.2 L928.8,384.8"/><path d="M910.8,401.7 L930.6,389.1 L930.6,384 L928,384.8"/><path d="M967.5,353.3 L970.3,349.1 L975,347.2 L979.7,349.1 L981.6,353.8 L980.2,358.5 L976,361.3 L971.3,360.8"/><path d="M970.3,350 L974.1,350.5 L976.9,353.8 L976.4,357.5 L974.1,359.4 L971.3,359.9"/><path d="M970.3,353.3 L961,359.6 L945.5,369.5"/><path d="M971.3,360.3 L964.7,364.3 L948.3,374.9"/><path d="M967.5,353.3 L968,355.2 L970.3,353.3"/><path d="M945.3,369.8 L946.6,368.9 L948.5,370.9 L949,373.6 L948.1,374.7"/><path d="M948.6,367.7 L949.9,366.8 L951.8,368.9 L952.3,371.5 L951.4,372.6"/><path d="M951.9,365.8 L953.2,364.8 L955,366.9 L955.6,369.5 L954.7,370.6"/><path d="M955.1,363.8 L956.5,362.9 L958.3,364.9 L958.9,367.6 L958,368.7"/><path d="M958.1,362 L959.5,361.1 L961.3,363.1 L961.9,365.8 L961,366.9"/><path d="M961,360.4 L962.3,359.5 L964.1,361.5 L964.7,364.2 L963.8,365.3"/><path d="M945,369.9 L945.5,373 L947.8,374.9"/><path d="M958.1,361.7 L960,366" stroke-width="1.8"/><path d="M938,377.7 L944.5,373.5"/><path d="M930,381.6 L934.7,379.1"/><path d="M874.4,435.5 L873.8,437.1 L872.9,438.5 L871.6,439.8 L870,440.9 L868.1,441.7 L865.9,442.2 L863.7,442.5 L861.3,442.4 L858.9,442 L856.6,441.4 L854.5,440.5 L852.5,439.4 L850.8,438 L849.3,436.5 L848.3,434.9 L847.6,433.2 L847.3,431.4 L847.5,429.8 L848,428.2 L849,426.7 L850.3,425.4 L851.9,424.4 L853.8,423.6 L855.9,423 L858.2,422.8 L860.6,422.9 L862.9,423.2 L865.2,423.9 L867.4,424.8 L869.4,425.9 L871.1,427.3 L872.5,428.8 L873.6,430.4 L874.3,432.1 L874.5,433.8Z"/><path d="M848,436.4 L854.1,441.2 L864.4,442.4 L872.1,438.1 L873.8,431.3"/><path d="M852.3,425.2 L860.1,427 L869.5,428.7"/><path d="M856.5,433.8 L856.2,435.2 L855.4,436.4 L854.2,437.2 L852.9,437.4 L851.5,437.2 L850.3,436.4 L849.5,435.2 L849.3,433.8 L849.5,432.4 L850.3,431.3 L851.5,430.5 L852.9,430.2 L854.2,430.5 L855.4,431.3 L856.2,432.4Z"/><path d="M867.3,435.4 L867,436.8 L866.2,437.9 L865.1,438.7 L863.7,439 L862.3,438.7 L861.1,437.9 L860.4,436.8 L860.1,435.4 L860.4,434 L861.1,432.8 L862.3,432 L863.7,431.8 L865.1,432 L866.2,432.8 L867,434Z"/></g></svg></body></html>
